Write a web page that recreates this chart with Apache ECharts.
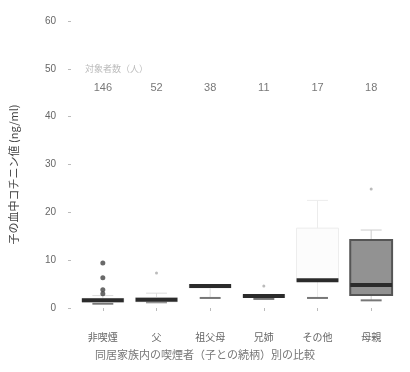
<!DOCTYPE html>
<html>
<head>
<meta charset="UTF-8">
<title>コチニン値</title>
<script src="https://cdn.jsdelivr.net/npm/echarts@6/dist/echarts.min.js"></script>
<style>
	html,body{margin:0;padding:0;background:#fff;}
	#main{width:410px;height:372px;}
</style>
</head>
<body>
<div id="main"></div>
<script>
	var categories = ["非喫煙","父","祖父母","兄姉","その他","母親"];
	var counts = [146,52,38,11,17,18];
	var lows = [0.9,1.2,2.1,1.9,2.1,1.6];
	var q1s = [1.2,1.3,4.2,2.2,5.6,2.7];
	var medians = [1.6,1.7,4.6,2.5,5.8,4.8];
	var q3s = [2.0,2.2,4.9,2.8,16.7,14.2];
	var highs = [2.6,3.1,4.9,2.8,22.5,16.3];
	var outliersDark = [[0,9.4],[0,6.3],[0,3.8],[0,3.0]];
	var outliersFaint = [[1,7.3],[3,4.6],[5,24.9]];
	var yTicks = [0,10,20,30,40,50,60];

	/*箱の塗り*/
	var boxFill = ["none","none","none","none","rgba(0,0,0,0.01)","#929292"];
	var boxLine = ["#ddd","#ddd","#e6e6e6","#e6e6e6","#ececec","#555"];
	var whisker = ["#ddd","#ddd","#ddd","#ddd","#ececec","#ccc"];

	var chart = echarts.init(document.getElementById("main"));

	function drawBox(params, api){
		var i = api.value(0);
		var x = api.coord([i,0])[0];
		var half = api.size([1,0])[0]*0.39;
		var yl = api.coord([i,api.value(1)])[1];
		var y1 = api.coord([i,api.value(2)])[1];
		var ym = api.coord([i,api.value(3)])[1];
		var y3 = api.coord([i,api.value(4)])[1];
		var yh = api.coord([i,api.value(5)])[1];
		return {
			type:"group",
			children:[
				{type:"line",shape:{x1:x,y1:yh,x2:x,y2:y3},style:{stroke:whisker[i],lineWidth:1}},
				{type:"line",shape:{x1:x,y1:y1,x2:x,y2:yl},style:{stroke:whisker[i],lineWidth:1}},
				{type:"line",shape:{x1:x-half*0.5,y1:yh,x2:x+half*0.5,y2:yh},style:{stroke:whisker[i],lineWidth:1}},
				{type:"line",shape:{x1:x-half*0.5,y1:yl,x2:x+half*0.5,y2:yl},style:{stroke:"#777",lineWidth:2}},
				{type:"rect",shape:{x:x-half,y:y3,width:half*2,height:y1-y3},style:{fill:boxFill[i],stroke:boxLine[i],lineWidth:i==5?2:1}},
				{type:"line",shape:{x1:x-half,y1:ym,x2:x+half,y2:ym},style:{stroke:"#2b2b2b",lineWidth:4}}
			]
		};
	}

	var boxData = [];
	for(var i=0;i<categories.length;i++){
		boxData.push([i,lows[i],q1s[i],medians[i],q3s[i],highs[i]]);
	}
	var countData = [];
	for(var j=0;j<counts.length;j++){
		countData.push([j,46,counts[j]]);
	}

	var option = {
		animation:false,
		grid:{left:75,right:12,top:21,bottom:64},
		xAxis:{
			type:"category",
			data:categories,
			offset:10,
			axisLine:{show:false},
			axisTick:{show:true,alignWithLabel:true,length:3,lineStyle:{color:"#bbb"}},
			axisLabel:{color:"#666",fontSize:10,margin:14,fontFamily:"Noto Sans CJK JP"}
		},
		yAxis:{
			type:"value",
			min:0,max:60,interval:10,
			offset:5,
			name:"子の血中コチニン値 (ng/ml)",
			nameLocation:"middle",
			nameRotate:90,
			nameGap:52,
			nameTextStyle:{color:"#444",fontSize:11,fontFamily:"Noto Sans CJK JP",padding:[0,0,0,-20]},
			axisLine:{show:false},
			axisTick:{show:true,length:3,lineStyle:{color:"#bbb"}},
			splitLine:{show:false},
			axisLabel:{color:"#666",fontSize:10,margin:15,
				formatter:function(v){ return yTicks.indexOf(v)>=0 ? String(v) : ""; }}
		},
		graphic:[
			{type:"text",left:85,top:64,style:{text:"対象者数（人）",fill:"#bbb",font:"9px 'Noto Sans CJK JP'"}},
			{type:"text",left:"center",top:349,x:18,style:{text:"同居家族内の喫煙者（子との続柄）別の比較",fill:"#777",font:"11px 'Noto Sans CJK JP'"}}
		],
		series:[
			{
				type:"custom",
				renderItem:drawBox,
				encode:{x:0,y:[1,2,3,4,5]},
				data:boxData,
				z:2
			},
			{
				type:"scatter",
				data:outliersDark,
				symbolSize:5,
				itemStyle:{color:"#444"},
				z:3
			},
			{
				type:"scatter",
				data:outliersFaint,
				symbolSize:3,
				itemStyle:{color:"#aaa"},
				z:3
			},
			{
				type:"scatter",
				data:countData,
				symbolSize:0,
				label:{show:true,position:"inside",color:"#555",fontSize:11,
					formatter:function(p){ return String(p.value[2]); }},
				z:3
			}
		]
	};
	chart.setOption(option);
</script>
</body>
</html>
